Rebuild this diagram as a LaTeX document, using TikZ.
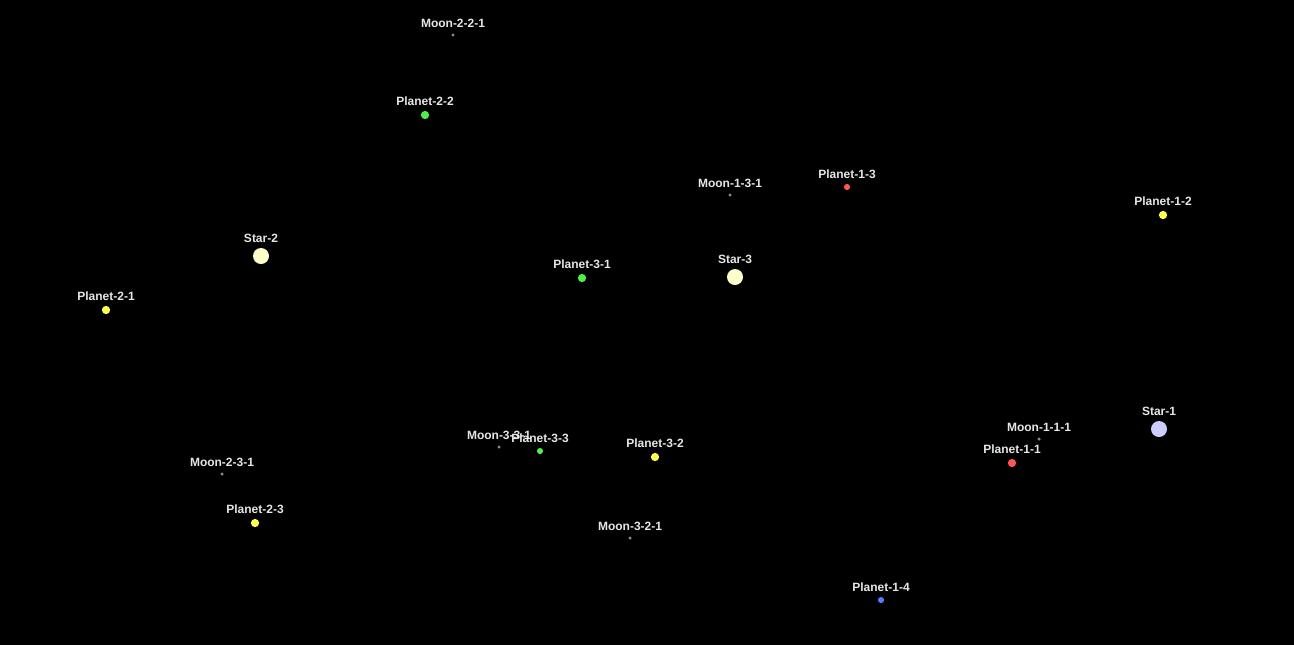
\documentclass[tikz,border=0pt]{standalone}
\usepackage{fontspec}
\setmainfont{Liberation Sans}
\definecolor{labelgray}{HTML}{E6E6E6}
\definecolor{starY}{HTML}{FFFFCC}
\definecolor{starB}{HTML}{CCCCFF}
\definecolor{plY}{HTML}{FFFF4D}
\definecolor{plG}{HTML}{4DEE4D}
\definecolor{plR}{HTML}{FF5555}
\definecolor{plB}{HTML}{4D7FFF}
\definecolor{moonG}{HTML}{8A8A8A}
\begin{document}
\begin{tikzpicture}[x=0.75pt,y=-0.75pt,
  lbl/.style={text=labelgray,font=\bfseries\fontsize{9}{10}\selectfont,inner sep=0pt},
  every label/.style={lbl},
  label distance=3.6pt,
  body/.style={circle,inner sep=0pt,draw=none,minimum size=#1},
  starbody/.style={body=12pt},
  planetbody/.style={body=6.2pt},
  smallplanet/.style={body=4.6pt},
  moonbody/.style={body=2.6pt,fill=moonG}]
\useasboundingbox (0,0) rectangle (1294,644);
\fill[black] (-5,-5) rectangle (1299,649);
% stars
\node[starbody,fill=starY,label=above:Star-2] (s2) at (261,256) {};
\node[starbody,fill=starY,label=above:Star-3] (s3) at (735,277) {};
\node[starbody,fill=starB,label=above:Star-1] (s1) at (1159,429) {};
% planets
\node[planetbody,fill=plG,label=above:Planet-2-2] (p22) at (425,115) {};
\node[smallplanet,fill=plR,label=above:Planet-1-3] (p13) at (847,187) {};
\node[planetbody,fill=plY,label=above:Planet-1-2] (p12) at (1163,215) {};
\node[planetbody,fill=plG,label=above:Planet-3-1] (p31) at (582,278) {};
\node[planetbody,fill=plY,label=above:Planet-2-1] (p21) at (106,310) {};
\node[planetbody,fill=plR,label=above:Planet-1-1] (p11) at (1012,463) {};
\node[smallplanet,fill=plG,label=above:Planet-3-3] (p33) at (540,451) {};
\node[planetbody,fill=plY,label=above:Planet-3-2] (p32) at (655,457) {};
\node[planetbody,fill=plY,label=above:Planet-2-3] (p23) at (255,523) {};
\node[smallplanet,fill=plB,label=above:Planet-1-4] (p14) at (881,600) {};
% moons
\node[moonbody,label=above:Moon-2-2-1] (m221) at (453,35) {};
\node[moonbody,label=above:Moon-1-3-1] (m131) at (730,195) {};
\node[moonbody,label=above:Moon-1-1-1] (m111) at (1039,439) {};
\node[moonbody,label=above:Moon-3-3-1] (m331) at (499,447) {};
\node[moonbody,label=above:Moon-2-3-1] (m231) at (222,474) {};
\node[moonbody,label=above:Moon-3-2-1] (m321) at (630,538) {};
\end{tikzpicture}
\end{document}
